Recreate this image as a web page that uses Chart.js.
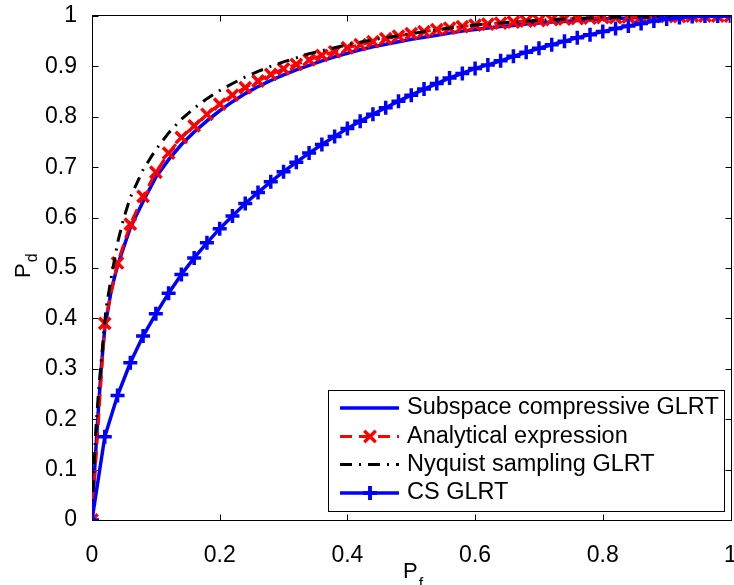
<!DOCTYPE html>
<html><head><meta charset="utf-8">
<script src="https://cdn.jsdelivr.net/npm/chart.js@4.4.1/dist/chart.umd.min.js"></script>
<style>
html,body{margin:0;padding:0;background:#fff;overflow:hidden;width:734px;height:585px}
#wrap{position:relative;width:742px;height:585px}
canvas{display:block}
</style>
</head><body><div id="wrap"><canvas id="c" width="742" height="585"></canvas></div>
<script>
// ---------- data ----------
const seriesNames = ['Subspace compressive GLRT', 'Analytical expression', 'Nyquist sampling GLRT', 'CS GLRT'];

const subspacePf = [0, 0.005, 0.01, 0.015, 0.02, 0.03, 0.04,
  0.06, 0.08, 0.10, 0.12, 0.14, 0.16, 0.18, 0.20, 0.22, 0.24, 0.26, 0.28, 0.30,
  0.32, 0.34, 0.36, 0.38, 0.40, 0.42, 0.44, 0.46, 0.48, 0.50, 0.52, 0.54, 0.56,
  0.58, 0.60, 0.62, 0.64, 0.66, 0.68, 0.70, 0.72, 0.74, 0.76, 0.78, 0.80, 0.82,
  0.84, 0.86, 0.88, 0.90, 0.92, 0.94, 0.96, 0.98, 1.00];
const subspacePd = [0, 0.12, 0.22, 0.31, 0.38, 0.455, 0.505,
  0.580, 0.632, 0.680, 0.715, 0.745, 0.770, 0.792, 0.812, 0.830, 0.846, 0.860, 0.872, 0.883,
  0.893, 0.902, 0.911, 0.919, 0.926, 0.933, 0.939, 0.944, 0.949, 0.954, 0.958, 0.962, 0.966,
  0.970, 0.973, 0.976, 0.979, 0.981, 0.984, 0.986, 0.988, 0.989, 0.991, 0.992, 0.994, 0.995,
  0.996, 0.997, 0.997, 0.998, 0.999, 0.999, 0.999, 1.000, 1.000];

const markerPf = [0, 0.02, 0.04, 0.06, 0.08, 0.10, 0.12, 0.14, 0.16, 0.18, 0.20,
  0.22, 0.24, 0.26, 0.28, 0.30, 0.32, 0.34, 0.36, 0.38, 0.40, 0.42, 0.44, 0.46, 0.48, 0.50,
  0.52, 0.54, 0.56, 0.58, 0.60, 0.62, 0.64, 0.66, 0.68, 0.70, 0.72, 0.74, 0.76, 0.78, 0.80,
  0.82, 0.84, 0.86, 0.88, 0.90, 0.92, 0.94, 0.96, 0.98, 1.00];
const analyticalPd = [0, 0.390, 0.510, 0.587, 0.642, 0.690, 0.728, 0.759, 0.782, 0.805, 0.825,
  0.843, 0.858, 0.871, 0.884, 0.895, 0.904, 0.913, 0.922, 0.929, 0.937, 0.943, 0.949, 0.955, 0.960, 0.965,
  0.969, 0.973, 0.976, 0.979, 0.982, 0.984, 0.986, 0.988, 0.990, 0.991, 0.993, 0.994, 0.995, 0.996, 0.997,
  0.997, 0.998, 0.998, 0.999, 0.999, 0.999, 1.000, 1.000, 1.000, 1.000];
const csPd = [0, 0.165, 0.247, 0.312, 0.365, 0.409, 0.450, 0.487, 0.520, 0.550, 0.578,
  0.603, 0.628, 0.650, 0.671, 0.691, 0.710, 0.728, 0.745, 0.761, 0.777, 0.791, 0.805, 0.818, 0.831, 0.843,
  0.855, 0.866, 0.877, 0.886, 0.896, 0.903, 0.911, 0.920, 0.928, 0.936, 0.943, 0.950, 0.957, 0.963, 0.969,
  0.975, 0.980, 0.985, 0.990, 0.994, 0.997, 0.999, 1.000, 1.000, 1.000];

const nyquistPf = [0, 0.003, 0.006, 0.01, 0.014, 0.018, 0.022, 0.03, 0.04, 0.05, 0.06,
  0.08, 0.10, 0.12, 0.14, 0.16, 0.18, 0.20, 0.22, 0.24, 0.26, 0.28, 0.30, 0.32, 0.34,
  0.36, 0.38, 0.40, 0.42, 0.44, 0.46, 0.48, 0.50, 0.52, 0.54, 0.56, 0.58, 0.60, 0.62,
  0.64, 0.66, 0.68, 0.70, 0.72, 0.74, 0.76, 0.78, 0.80, 0.82, 0.84, 0.86, 0.88, 0.90,
  0.92, 0.94, 0.96, 0.98, 1.00];
const nyquistPd = [0, 0.10, 0.18, 0.25, 0.31, 0.365, 0.42, 0.48, 0.55, 0.60, 0.64,
  0.695, 0.735, 0.768, 0.795, 0.817, 0.836, 0.852, 0.866, 0.879, 0.890, 0.900, 0.909, 0.917, 0.925,
  0.931, 0.937, 0.943, 0.948, 0.953, 0.957, 0.961, 0.965, 0.969, 0.972, 0.976, 0.979, 0.982, 0.984,
  0.986, 0.988, 0.990, 0.991, 0.993, 0.994, 0.995, 0.996, 0.997, 0.997, 0.998, 0.998, 0.999, 0.999,
  0.999, 1.000, 1.000, 1.000, 1.000];

const xTickLabels = ['0', '0.2', '0.4', '0.6', '0.8', '1'];
const yTickLabels = ['0', '0.1', '0.2', '0.3', '0.4', '0.5', '0.6', '0.7', '0.8', '0.9', '1'];
const xTitle = ['P', 'f'];
const yTitle = ['P', 'd'];

// ---------- helpers ----------
function pts(xs, ys) { return xs.map((x, i) => ({x: x, y: ys[i]})); }

const FONT = '"Liberation Sans", Arial, Helvetica, sans-serif';
const BLUE = '#0000ff', RED = '#ff0000', BLACK = '#000000';

const styles = [
  {color: BLUE, width: 3.5, dash: [], marker: null, r: 0},
  {color: RED, width: 3, dash: [12, 7], marker: 'crossRot', r: 8},
  {color: BLACK, width: 3, dash: [12, 7, 2, 7], marker: null, r: 0},
  {color: BLUE, width: 3.5, dash: [], marker: 'cross', r: 7}
];

const framePlugin = {
  id: 'frame',
  beforeDatasetsDraw(chart) {
    const {ctx, chartArea: a, scales: {x, y}} = chart;
    ctx.save();
    ctx.strokeStyle = '#000';
    ctx.lineWidth = 1;
    const L = Math.round(a.left) + 0.5, R = Math.round(a.right) + 0.5;
    const T = Math.round(a.top) - 0.5, B = Math.round(a.bottom) + 0.5;
    ctx.beginPath();
    ctx.rect(L, T, R - L, B - T);
    const tl = 6;
    x.ticks.forEach(t => {
      const px = Math.round(x.getPixelForValue(t.value)) + 0.5;
      ctx.moveTo(px, B); ctx.lineTo(px, B - tl);
      ctx.moveTo(px, T); ctx.lineTo(px, T + tl);
    });
    y.ticks.forEach(t => {
      const py = Math.round(y.getPixelForValue(t.value)) + 0.5;
      ctx.moveTo(L, py); ctx.lineTo(L + tl, py);
      ctx.moveTo(R, py); ctx.lineTo(R - tl, py);
    });
    ctx.stroke();
    ctx.restore();
  },
  afterDraw(chart) {
    const {ctx, chartArea: a} = chart;
    ctx.save();
    ctx.fillStyle = '#000';
    ctx.textBaseline = 'alphabetic';
    ctx.textAlign = 'left';
    // x title
    ctx.font = '22px ' + FONT;
    const pw = ctx.measureText(xTitle[0]).width;
    ctx.fillText(xTitle[0], 403, 578);
    ctx.font = '16px ' + FONT;
    ctx.fillText(xTitle[1], 403 + pw + 1, 589);
    // y title
    ctx.save();
    ctx.translate(30, 278);
    ctx.rotate(-Math.PI / 2);
    ctx.font = '22px ' + FONT;
    const pw2 = ctx.measureText(yTitle[0]).width;
    ctx.fillText(yTitle[0], 0, 0);
    ctx.font = '16px ' + FONT;
    ctx.fillText(yTitle[1], pw2 + 1, 7);
    ctx.restore();

    // legend
    const bx = 328.5, by = 390.5, bw = 396, bh = 121;
    ctx.fillStyle = '#fff';
    ctx.fillRect(bx, by, bw, bh);
    ctx.strokeStyle = '#000';
    ctx.lineWidth = 1;
    ctx.strokeRect(bx, by, bw, bh);
    const rows = [408, 436.5, 464.5, 493];
    seriesNames.forEach((name, i) => {
      const s = styles[i];
      const ry = rows[i];
      ctx.save();
      ctx.strokeStyle = s.color;
      ctx.lineWidth = s.width;
      ctx.setLineDash(s.dash);
      ctx.beginPath();
      ctx.moveTo(340, ry); ctx.lineTo(399, ry);
      ctx.stroke();
      ctx.setLineDash([]);
      if (s.marker) {
        Chart.helpers.drawPoint(ctx, {pointStyle: s.marker, radius: s.r, borderWidth: s.width}, 370, ry);
        ctx.stroke();
      }
      ctx.restore();
      ctx.fillStyle = '#000';
      ctx.font = '23.5px ' + FONT;
      ctx.textBaseline = 'middle';
      ctx.textAlign = 'left';
      ctx.fillText(name, 407, ry);
    });
    ctx.restore();
  }
};

const datasets = [
  {label: seriesNames[0], data: pts(subspacePf, subspacePd), borderColor: BLUE, borderWidth: 3.5,
   pointRadius: 0, order: 4},
  {label: seriesNames[1], data: pts(markerPf, analyticalPd), borderColor: RED, borderWidth: 3,
   borderDash: [12, 7], pointStyle: 'crossRot', pointRadius: 8, pointBorderWidth: 3.5,
   pointBorderColor: RED, pointBackgroundColor: RED, order: 3},
  {label: seriesNames[2], data: pts(nyquistPf, nyquistPd), borderColor: BLACK, borderWidth: 3,
   borderDash: [12, 7, 2, 7], pointRadius: 0, order: 2},
  {label: seriesNames[3], data: pts(markerPf, csPd), borderColor: BLUE, borderWidth: 3.5,
   pointStyle: 'cross', pointRadius: 7, pointBorderWidth: 3.5,
   pointBorderColor: BLUE, pointBackgroundColor: BLUE, order: 1}
];

new Chart(document.getElementById('c').getContext('2d'), {
  type: 'line',
  data: {datasets: datasets},
  options: {
    responsive: false,
    animation: false,
    devicePixelRatio: 1,
    layout: {padding: {left: 0, top: 16, right: 7, bottom: 0}},
    elements: {line: {tension: 0, fill: false}},
    plugins: {legend: {display: false}, tooltip: {enabled: false}},
    scales: {
      x: {
        type: 'linear', min: 0, max: 1,
        grid: {display: false}, border: {display: false},
        ticks: {stepSize: 0.2, padding: 14, color: '#000', maxRotation: 0,
                font: {family: FONT, size: 23},
                callback: (v, i) => xTickLabels[i]},
        afterFit: s => { s.height = 65; s.paddingLeft = 0; s.paddingRight = 0; }
      },
      y: {
        type: 'linear', min: 0, max: 1,
        grid: {display: false}, border: {display: false},
        ticks: {stepSize: 0.1, padding: 7, color: '#000',
                font: {family: FONT, size: 23},
                callback: (v, i) => yTickLabels[i]},
        afterFit: s => { s.width = 92; s.paddingTop = 0; s.paddingBottom = 0; }
      }
    }
  },
  plugins: [framePlugin]
});
</script>
</body></html>
